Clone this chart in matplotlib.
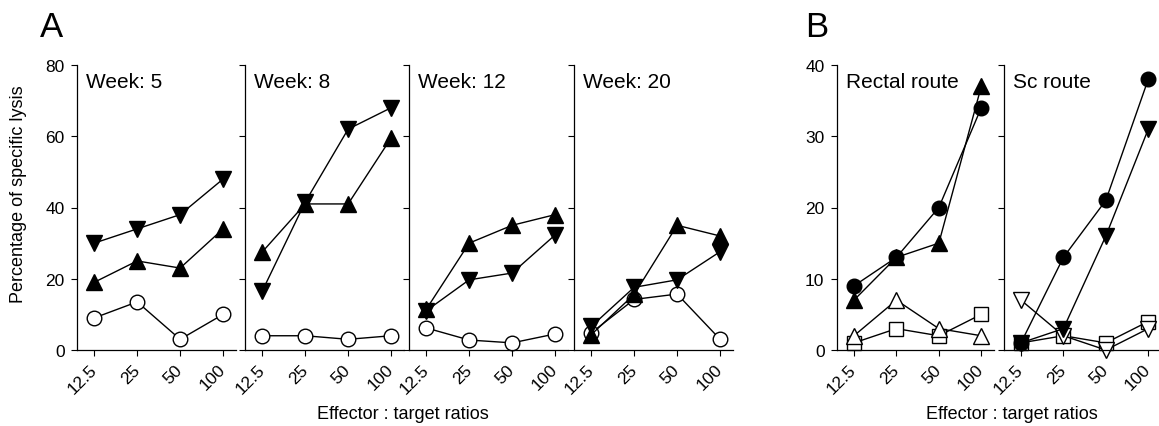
import matplotlib
matplotlib.use('Agg')
from matplotlib import pyplot as plt

plt.rcParams['font.family'] = ['Liberation Sans', 'DejaVu Sans']

ratios = ['12.5', '25', '50', '100']

# panel A: weeks
weeks = ['Week: 5', 'Week: 8', 'Week: 12', 'Week: 20']
a_down = [[30, 34, 38, 48], [16.5, 41.5, 62, 68], [11, 19.7, 21.6, 32.3], [6.6, 17.6, 19.7, 27.6]]
a_up = [[19, 25, 23, 34], [27.5, 41, 41, 59.5], [11.4, 30, 35, 38], [4.3, 15.6, 35, 32]]
a_circle = [[9, 13.5, 3, 10], [4, 4, 3, 4], [6.2, 2.8, 2, 4.5], [4.8, 14.2, 15.7, 3]]

# panel B: routes
routes = ['Rectal route', 'Sc route']
b_circle = [[9, 13, 20, 34], [1, 13, 21, 38]]
b_filled = [[7, 13, 15, 37], [1, 3, 16, 31]]
b_open_tri = [[2, 7, 3, 2], [7, 2, 0, 3]]
b_square = [[1, 3, 2, 5], [1, 2, 1, 4]]

W, H = 1159, 427
fig = plt.figure(figsize=(W / 100, H / 100), dpi=100)


def make_axes(left_px, width_px, ylim, yticks, show_labels):
    ax = fig.add_axes([left_px / W, 76 / H, width_px / W, 285 / H])
    ax.set_xlim(-0.4, 3.3)
    ax.set_ylim(*ylim)
    ax.spines['top'].set_visible(False)
    ax.spines['right'].set_visible(False)
    ax.spines['left'].set_linewidth(0.9)
    ax.spines['bottom'].set_linewidth(0.9)
    ax.set_xticks(range(4))
    ax.set_xticklabels(ratios, rotation=45, ha='right', va='center',
                       rotation_mode='anchor', fontsize=12.5)
    ax.set_yticks(yticks)
    if show_labels:
        ax.set_yticklabels([str(t) for t in yticks], fontsize=12.5)
    else:
        ax.set_yticklabels([])
    ax.tick_params(axis='y', length=4, width=0.8, pad=5)
    ax.tick_params(axis='x', length=4, width=0.8, pad=8)
    return ax


line = dict(markeredgecolor='black', color='black', linewidth=1, clip_on=False)
tri = 11.5
circ = 10.5
sq = 10

lefts_a = [77, 245, 409, 574]
for i in range(4):
    ax = make_axes(lefts_a[i], 159, (0, 80), [0, 20, 40, 60, 80], i == 0)
    x = range(4)
    ax.plot(x, a_circle[i], marker='o', markersize=circ, markerfacecolor='white', **line)
    ax.plot(x, a_up[i], marker='^', markersize=tri, markerfacecolor='black', **line)
    ax.plot(x, a_down[i], marker='v', markersize=tri, markerfacecolor='black', **line)
    ax.text(0.055, 0.975, weeks[i], transform=ax.transAxes, fontsize=15, va='top', ha='left')

lefts_b = [837, 1004]
for i in range(2):
    ax = make_axes(lefts_b[i], 157, (0, 40), [0, 10, 20, 30, 40], i == 0)
    x = range(4)
    ax.plot(x, b_square[i], marker='s', markersize=sq, markerfacecolor='white', **line)
    m = '^' if i == 0 else 'v'
    ax.plot(x, b_open_tri[i], marker=m, markersize=tri, markerfacecolor='white', **line)
    ax.plot(x, b_filled[i], marker=m, markersize=tri, markerfacecolor='black', **line)
    ax.plot(x, b_circle[i], marker='o', markersize=circ, markerfacecolor='black', **line)
    ax.text(0.055, 0.975, routes[i], transform=ax.transAxes, fontsize=15, va='top', ha='left')

fig.text(19 / W, 1 - 194 / H, 'Percentage of specific lysis', fontsize=13,
         rotation=90, ha='center', va='center')
fig.text(40 / W, 1 - 37 / H, 'A', fontsize=25)
fig.text(805 / W, 1 - 37 / H, 'B', fontsize=25)
fig.text(403 / W, 1 - 415 / H, 'Effector : target ratios', fontsize=13, ha='center', va='center')
fig.text(1012 / W, 1 - 415 / H, 'Effector : target ratios', fontsize=13, ha='center', va='center')

fig.savefig('out.png', dpi=100)
